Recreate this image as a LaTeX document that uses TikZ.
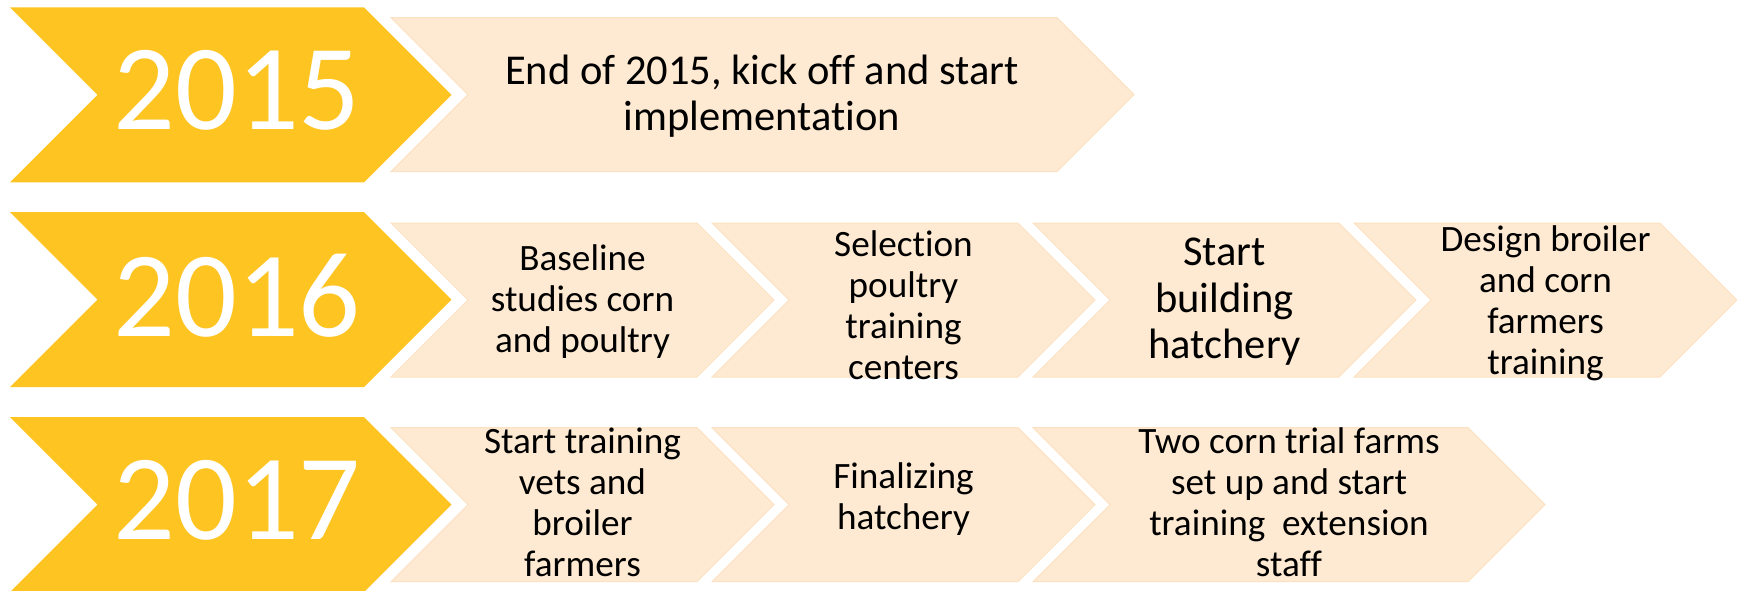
\documentclass[tikz,border=0pt]{standalone}
\usepackage{fontspec}
\setmainfont{Carlito}[Ligatures=NoCommon]
\usetikzlibrary{positioning}
\definecolor{yearfill}{HTML}{FEC421}
\definecolor{stagefill}{HTML}{FEEAD2}
\definecolor{stageline}{HTML}{FCE2C2}
% arrow box: style, left x, centre y, width, half height
\newcommand{\chevron}[5]{%
  \path[#1] (#2,#3-#5) -- ++(#4,0) -- ++(#5,#5) -- ++(-#5,#5) -- ++(-#4,0) -- ++(#5,-#5) -- cycle;}
\begin{document}
\begin{tikzpicture}[x=1pt,y=-1pt,
  yearbox/.style={fill=yearfill},
  stagebox/.style={fill=stagefill,draw=stageline,line width=1pt},
  yeartxt/.style={text=white,inner sep=0pt,font=\fontsize{122}{146}\selectfont},
  stagetxt/.style={align=center,inner sep=0pt,font=\fontsize{37.2}{41}\selectfont},
  bigtxt/.style={align=center,inner sep=0pt,font=\fontsize{42.5}{46.5}\selectfont},
  node distance=321pt]
  \useasboundingbox (0,0) rectangle (1737,590);

  % years
  \foreach \yc in {94.8,299.7,504.7}
    \chevron{yearbox}{10}{\yc}{354}{87.5};

  % stages
  \chevron{stagebox}{391}{94.6}{666}{77}
  \foreach \xl in {391,712,1033,1354}
    \chevron{stagebox}{\xl}{300}{306}{77};
  \foreach \xl in {391,712}
    \chevron{stagebox}{\xl}{504.7}{306}{77};
  \chevron{stagebox}{1033}{504.7}{435}{77}

  \node[yeartxt] (y15) at (237,90.7) {2015};
  \node[yeartxt] (y16) at (237,295.9) {2016};
  \node[yeartxt] (y17) at (237,500.3) {2017};

  \node[bigtxt] (a1) at (762,96) {End of 2015, kick off and start\\implementation};

  \node[stagetxt] (b1) at (582.5,301.5) {Baseline\\studies corn\\and poultry};
  \node[stagetxt] (b2) [right of = b1, yshift=-4pt] {Selection\\poultry\\training\\centers};
  \node[bigtxt] (b3) [right of = b2, yshift=3.5pt] {Start\\building\\hatchery};
  \node[stagetxt] (b4) [right of = b3, yshift=-1.5pt] {Design broiler\\and corn\\farmers\\training};

  \node[stagetxt] (c1) at (582.5,502.2) {Start training\\vets and\\broiler\\farmers};
  \node[stagetxt] (c2) [right of = c1, yshift=3.5pt] {Finalizing\\hatchery};
  \node[stagetxt] (c3) at (1289,502.2) {Two corn trial farms\\set up and start\\training\ \ extension\\staff};
\end{tikzpicture}
\end{document}
